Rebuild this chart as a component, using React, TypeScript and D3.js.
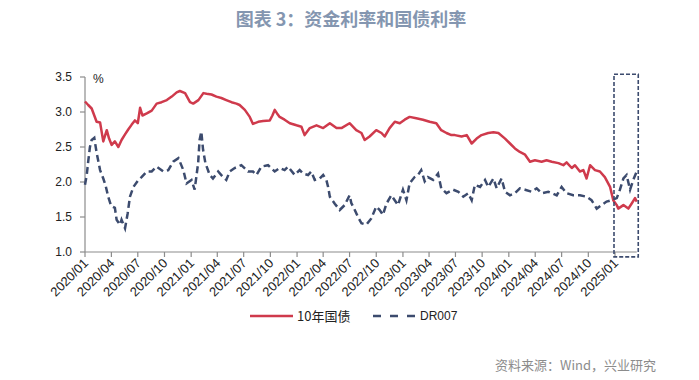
import React from "react";
import * as d3 from "d3";

const bondDates = [
  "2020-01-01","2020-01-12","2020-01-24","2020-02-02","2020-02-10","2020-02-22","2020-03-04","2020-03-16","2020-03-24","2020-04-02",
  "2020-04-13","2020-04-25","2020-05-06","2020-05-18","2020-05-29","2020-06-10","2020-06-21","2020-07-01","2020-07-09","2020-07-17",
  "2020-08-01","2020-08-18","2020-09-04","2020-09-21","2020-10-09","2020-10-26","2020-11-12","2020-11-23","2020-12-11","2020-12-28",
  "2021-01-08","2021-01-26","2021-02-12","2021-02-23","2021-03-12","2021-03-29","2021-04-15","2021-05-02","2021-05-20","2021-06-06",
  "2021-06-17","2021-07-05","2021-07-22","2021-08-02","2021-08-20","2021-09-06","2021-09-29","2021-10-08","2021-10-16","2021-10-24",
  "2021-11-02","2021-11-19","2021-12-07","2021-12-30","2022-01-16","2022-01-27","2022-02-14","2022-03-09","2022-04-01","2022-04-24",
  "2022-05-17","2022-06-03","2022-07-01","2022-07-24","2022-08-11","2022-08-22","2022-09-08","2022-10-01","2022-10-19","2022-10-30",
  "2022-11-16","2022-12-04","2022-12-21","2023-01-07","2023-01-24","2023-02-16","2023-03-11","2023-04-03","2023-04-26","2023-05-13",
  "2023-05-31","2023-06-17","2023-06-29","2023-07-22","2023-08-09","2023-08-26","2023-09-12","2023-09-29","2023-10-22","2023-11-09",
  "2023-11-26","2023-12-19","2024-01-05","2024-01-22","2024-02-08","2024-02-26","2024-03-14","2024-03-31","2024-04-23","2024-05-10",
  "2024-05-28","2024-06-20","2024-07-07","2024-07-18","2024-08-05","2024-08-16","2024-09-02","2024-09-14","2024-09-25","2024-10-07",
  "2024-10-24","2024-11-10","2024-11-27","2024-12-15","2024-12-26","2025-01-07","2025-01-12","2025-01-30","2025-02-16","2025-02-27",
  "2025-03-11","2025-03-17"
];
const bondValues = [
  3.15,3.10,3.05,2.95,2.86,2.85,2.58,2.74,2.62,2.53,
  2.58,2.50,2.60,2.68,2.75,2.82,2.88,2.84,3.06,2.95,
  2.98,3.02,3.12,3.14,3.17,3.22,3.28,3.30,3.27,3.14,
  3.12,3.17,3.27,3.26,3.25,3.22,3.20,3.17,3.14,3.12,
  3.10,3.03,2.93,2.83,2.86,2.87,2.88,2.95,3.03,2.98,
  2.93,2.89,2.84,2.81,2.79,2.67,2.77,2.81,2.77,2.84,
  2.77,2.77,2.84,2.74,2.70,2.60,2.65,2.74,2.70,2.65,
  2.77,2.86,2.84,2.89,2.93,2.91,2.89,2.86,2.84,2.74,
  2.70,2.67,2.67,2.65,2.67,2.55,2.62,2.67,2.70,2.71,
  2.70,2.62,2.55,2.48,2.43,2.39,2.29,2.31,2.29,2.31,
  2.29,2.27,2.24,2.28,2.20,2.24,2.15,2.17,2.05,2.24,
  2.17,2.15,2.07,1.93,1.74,1.67,1.62,1.67,1.62,1.69,
  1.77,1.72
];

const drDates = [
  "2020-01-01","2020-01-07","2020-01-12","2020-01-18","2020-01-24","2020-02-02","2020-02-10","2020-02-22","2020-03-04","2020-03-12",
  "2020-03-21","2020-03-31","2020-04-13","2020-04-19","2020-05-01","2020-05-06","2020-05-18","2020-05-27","2020-06-04","2020-06-16",
  "2020-07-03","2020-07-14","2020-08-01","2020-08-18","2020-09-04","2020-09-27","2020-10-14","2020-10-31","2020-11-18","2020-12-05",
  "2020-12-16","2021-01-02","2021-01-13","2021-01-25","2021-01-30","2021-02-05","2021-02-11","2021-02-19","2021-03-06","2021-03-17",
  "2021-04-04","2021-04-21","2021-05-02","2021-05-14","2021-05-31","2021-06-23","2021-07-16","2021-08-02","2021-08-14","2021-08-31",
  "2021-09-23","2021-10-16","2021-11-02","2021-11-19","2021-12-01","2021-12-24","2022-01-10","2022-01-22","2022-02-08","2022-02-19",
  "2022-03-03","2022-03-20","2022-04-01","2022-04-12","2022-04-18","2022-04-24","2022-05-11","2022-05-28","2022-06-14","2022-07-01",
  "2022-07-07","2022-07-19","2022-07-30","2022-08-11","2022-08-28","2022-09-14","2022-10-01","2022-10-13","2022-10-24","2022-11-05",
  "2022-11-22","2022-12-15","2023-01-01","2023-01-13","2023-01-24","2023-02-10","2023-02-22","2023-03-05","2023-03-17","2023-03-28",
  "2023-04-15","2023-05-02","2023-05-13","2023-05-31","2023-06-23","2023-07-11","2023-07-28","2023-08-14","2023-08-26","2023-09-06",
  "2023-09-24","2023-10-11","2023-10-22","2023-11-09","2023-11-20","2023-12-07","2023-12-19","2024-01-05","2024-01-22","2024-02-08",
  "2024-02-26","2024-03-20","2024-04-06","2024-04-23","2024-05-16","2024-05-28","2024-06-14","2024-07-01","2024-07-18","2024-08-10",
  "2024-09-02","2024-09-25","2024-10-12","2024-10-30","2024-11-16","2024-12-03","2024-12-20","2025-01-07","2025-01-18","2025-01-30",
  "2025-02-10","2025-02-22","2025-03-05","2025-03-17"
];
const drValues = [
  1.96,2.10,2.29,2.50,2.60,2.63,2.42,2.17,2.05,1.95,
  1.79,1.66,1.63,1.46,1.39,1.46,1.34,1.55,1.79,1.93,
  2.03,2.07,2.15,2.15,2.22,2.15,2.17,2.29,2.34,2.17,
  1.98,2.03,1.89,2.27,2.60,2.72,2.46,2.27,2.10,2.05,
  2.15,2.07,2.03,2.15,2.20,2.24,2.15,2.15,2.10,2.22,
  2.24,2.15,2.20,2.17,2.22,2.10,2.17,2.12,2.10,2.15,
  2.03,2.05,2.10,2.03,1.93,1.79,1.69,1.60,1.67,1.81,
  1.70,1.60,1.50,1.41,1.39,1.48,1.65,1.60,1.53,1.69,
  1.81,1.67,1.89,1.74,1.98,2.07,2.10,2.17,2.01,2.07,
  2.03,2.12,1.91,1.84,1.89,1.86,1.79,1.84,1.74,1.96,
  1.93,2.03,1.93,2.05,1.91,2.05,1.86,1.81,1.84,1.91,
  1.89,1.86,1.91,1.84,1.86,1.84,1.81,1.93,1.84,1.81,
  1.81,1.79,1.74,1.62,1.67,1.72,1.74,1.77,1.89,2.05,
  2.10,1.89,2.03,2.15
];

const yTicks = [1.0, 1.5, 2.0, 2.5, 3.0, 3.5];
const xTickLabels = [
  "2020/01","2020/04","2020/07","2020/10","2021/01","2021/04","2021/07","2021/10",
  "2022/01","2022/04","2022/07","2022/10","2023/01","2023/04","2023/07","2023/10",
  "2024/01","2024/04","2024/07","2024/10","2025/01"
];
const seriesNames = ["10年国债", "DR007"];
const highlightStart = "2025-01-01";

const RED = "#CF3A4C";
const NAVY = "#3C4B6E";
const AXIS = "#8C8C8C";
const FONT = "'Liberation Sans', Arial, sans-serif";
const CJK = "'Noto Sans CJK SC', 'Noto Sans', sans-serif";

export default function App() {
  const parse = d3.timeParse("%Y-%m-%d");
  const parseTick = d3.timeParse("%Y/%m");
  const bond = bondDates.map((d, i) => ({ date: parse(d) as Date, v: bondValues[i] }));
  const dr = drDates.map((d, i) => ({ date: parse(d) as Date, v: drValues[i] }));

  const x = d3
    .scaleTime()
    .domain([parse("2020-01-01") as Date, parse("2025-01-01") as Date])
    .range([85, 615]);
  const y = d3.scaleLinear().domain([1.0, 3.5]).range([252, 77]);

  const line = d3
    .line<{ date: Date; v: number }>()
    .x((d) => x(d.date))
    .y((d) => y(d.v));

  const lastDate = bond[bond.length - 1].date;
  const axisEnd = x(lastDate);
  const hx0 = x(parse(highlightStart) as Date) - 1;
  const hx1 = axisEnd + 1.5;

  return (
    <svg
      width={699}
      height={380}
      style={{ position: "absolute", left: 0, top: 0, background: "#fff" }}
    >
      <text
        x={351}
        y={26}
        textAnchor="middle"
        fontFamily={CJK}
        fontWeight="bold"
        fontSize={18}
        fill="#8496B0"
      >
        图表 3：资金利率和国债利率
      </text>

      {/* y axis */}
      <line x1={85} x2={85} y1={y(3.5)} y2={y(1.0)} stroke={AXIS} strokeWidth={1.2} />
      {yTicks.map((t) => (
        <g key={t}>
          <line x1={80} x2={85} y1={y(t)} y2={y(t)} stroke={AXIS} strokeWidth={1.2} />
          <text
            x={72}
            y={y(t)}
            dy="0.35em"
            textAnchor="end"
            fontFamily={FONT}
            fontSize={12}
            fill="#222"
          >
            {t.toFixed(1)}
          </text>
        </g>
      ))}
      <text x={93} y={83} fontFamily={FONT} fontSize={12} fill="#222">
        %
      </text>

      {/* x axis */}
      <line x1={85} x2={axisEnd} y1={252} y2={252} stroke={AXIS} strokeWidth={1.2} />
      {xTickLabels.map((lab) => {
        const tx = x(parseTick(lab) as Date);
        return (
          <g key={lab}>
            <line x1={tx} x2={tx} y1={252} y2={257} stroke={AXIS} strokeWidth={1.2} />
            <text
              transform={`translate(${tx + 4},${264}) rotate(-45)`}
              textAnchor="end"
              fontFamily={FONT}
              fontSize={13}
              fill="#222"
            >
              {lab}
            </text>
          </g>
        );
      })}

      {/* series */}
      <path d={line(dr) || ""} fill="none" stroke={NAVY} strokeWidth={2.5} strokeDasharray="7,4" />
      <path d={line(bond) || ""} fill="none" stroke={RED} strokeWidth={2.5} strokeLinejoin="round" />

      {/* highlight box */}
      <rect
        x={hx0}
        y={y(3.54)}
        width={hx1 - hx0}
        height={y(0.93) - y(3.54)}
        fill="none"
        stroke={NAVY}
        strokeWidth={1.6}
        strokeDasharray="4,2"
      />

      {/* legend */}
      <line x1={250} x2={293} y1={316} y2={316} stroke={RED} strokeWidth={2.5} />
      <text x={297} y={316} dy="0.35em" fontFamily={CJK} fontSize={13} fill="#222">
        {seriesNames[0]}
      </text>
      <line x1={373} x2={417} y1={316} y2={316} stroke={NAVY} strokeWidth={2.5} strokeDasharray="8,9" />
      <text x={420} y={316} dy="0.35em" fontFamily={FONT} fontSize={12} fill="#222">
        {seriesNames[1]}
      </text>

      <text x={495} y={370} fontFamily={CJK} fontSize={13} fill="#8C8C8C">
        资料来源：Wind，兴业研究
      </text>
    </svg>
  );
}
